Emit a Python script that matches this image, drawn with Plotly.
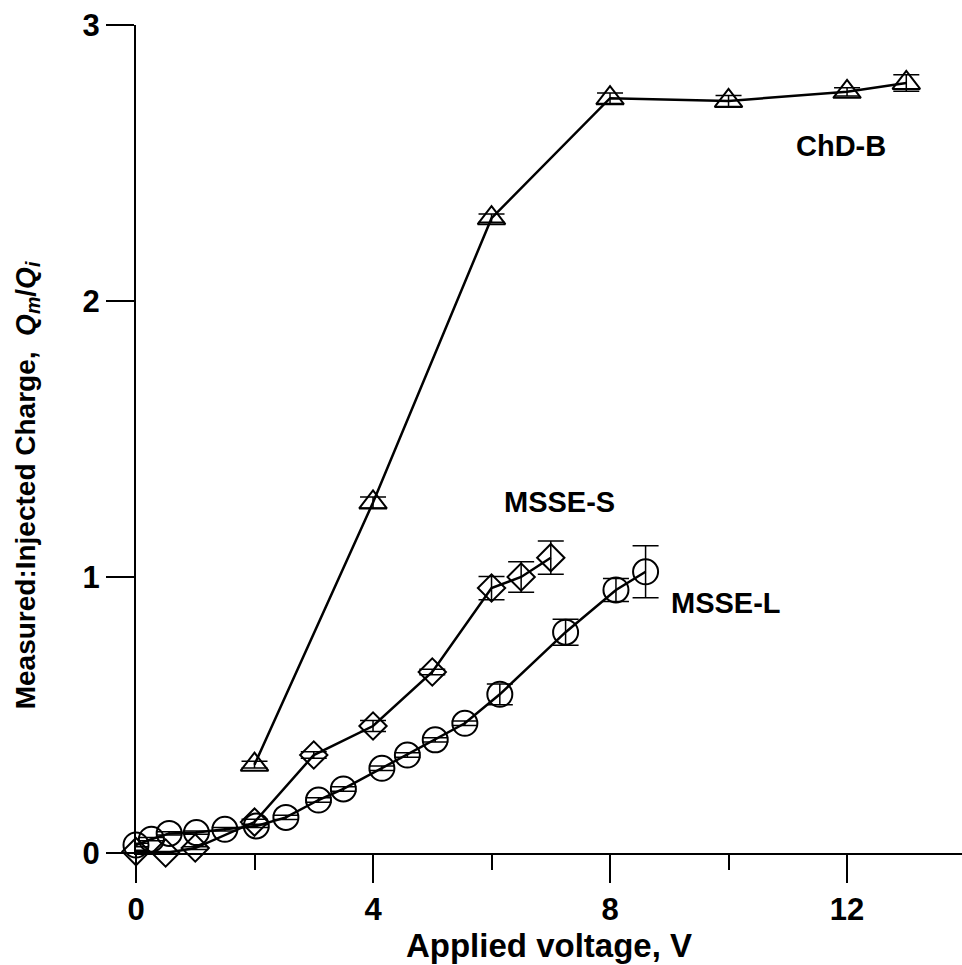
import plotly.graph_objects as go

# Charge-balance measurements for three electrode types
chd_v = [2, 4, 6, 8, 10, 12, 13]
chd_q = [0.32, 1.27, 2.30, 2.735, 2.725, 2.758, 2.79]
chd_err = [0.012, 0.02, 0.015, 0.019, 0.02, 0.015, 0.03]

msse_s_v = [0, 0.5, 1, 2, 3, 4, 5, 6, 6.5, 7]
msse_s_q = [0.005, 0.0, 0.018, 0.112, 0.355, 0.46, 0.656, 0.96, 1.0, 1.07]
msse_s_err = [0.005, 0.005, 0.005, 0.01, 0.012, 0.02, 0.01, 0.042, 0.055, 0.06]

msse_l_v = [0, 0.26, 0.56, 1.02, 1.5, 2.03, 2.53, 3.08, 3.5, 4.15, 4.58,
            5.05, 5.55, 6.14, 7.25, 8.1, 8.6]
msse_l_q = [0.029, 0.05, 0.071, 0.074, 0.086, 0.098, 0.129, 0.192, 0.232,
            0.307, 0.355, 0.41, 0.47, 0.575, 0.80, 0.953, 1.019]
msse_l_err = [0.006, 0.006, 0.006, 0.006, 0.006, 0.006, 0.008, 0.008, 0.008,
              0.008, 0.008, 0.008, 0.008, 0.0375, 0.047, 0.042, 0.094]

series_labels = ["ChD-B", "MSSE-S", "MSSE-L"]
label_pos = [(11.9, 2.56), (7.15, 1.27), (9.95, 0.905)]

FONT = "Liberation Sans, Arial, sans-serif"

fig = go.Figure()


def add_series(x, y, err, symbol, size):
    fig.add_trace(go.Scatter(
        x=x, y=y, mode="lines+markers",
        line=dict(color="black", width=2.5),
        marker=dict(symbol=symbol, size=size, color="black",
                    line=dict(color="black", width=2)),
        error_y=dict(type="data", array=err, visible=True,
                     color="black", thickness=1.5, width=13),
        cliponaxis=False, showlegend=False,
    ))


add_series(chd_v, chd_q, chd_err, "triangle-up-open", 24)
add_series(msse_s_v, msse_s_q, msse_s_err, "diamond-open", 21)
add_series(msse_l_v, msse_l_q, msse_l_err, "circle-open", 25)

for text, (lx, ly) in zip(series_labels, label_pos):
    fig.add_annotation(x=lx, y=ly, text=f"<b>{text}</b>", showarrow=False,
                       font=dict(family=FONT, size=29, color="black"))

# Rotated y-axis title with italic Q_m/Q_i
fig.add_annotation(
    xref="paper", yref="paper", x=-0.132, y=0.444,
    text="<b>Measured:Injected Charge,  <i>Q<sub>m</sub></i>/<i>Q<sub>i</sub></i></b>",
    textangle=-90, showarrow=False, xanchor="center", yanchor="middle",
    font=dict(family=FONT, size=28, color="black"),
)

axis_common = dict(
    showline=True, linecolor="black", linewidth=2,
    ticks="outside", ticklen=28, tickwidth=2, tickcolor="black",
    showgrid=False, zeroline=False,
    tickfont=dict(family=FONT, size=31, color="black", weight="bold"),
)

fig.update_xaxes(
    range=[0, 13.94], tick0=0, dtick=4,
    minor=dict(ticks="outside", ticklen=15, tickwidth=2, tickcolor="black",
               dtick=2, showgrid=False),
    title=dict(text="<b>Applied voltage, V</b>", standoff=2,
               font=dict(family=FONT, size=33, color="black")),
    **axis_common,
)
fig.update_yaxes(
    range=[0, 3], tick0=0, dtick=1,
    **axis_common,
)

fig.update_layout(
    width=962, height=965,
    margin=dict(l=136, r=0, t=25, b=112),
    plot_bgcolor="white", paper_bgcolor="white",
    font=dict(family=FONT, color="black"),
)

fig.write_html("out.html")
